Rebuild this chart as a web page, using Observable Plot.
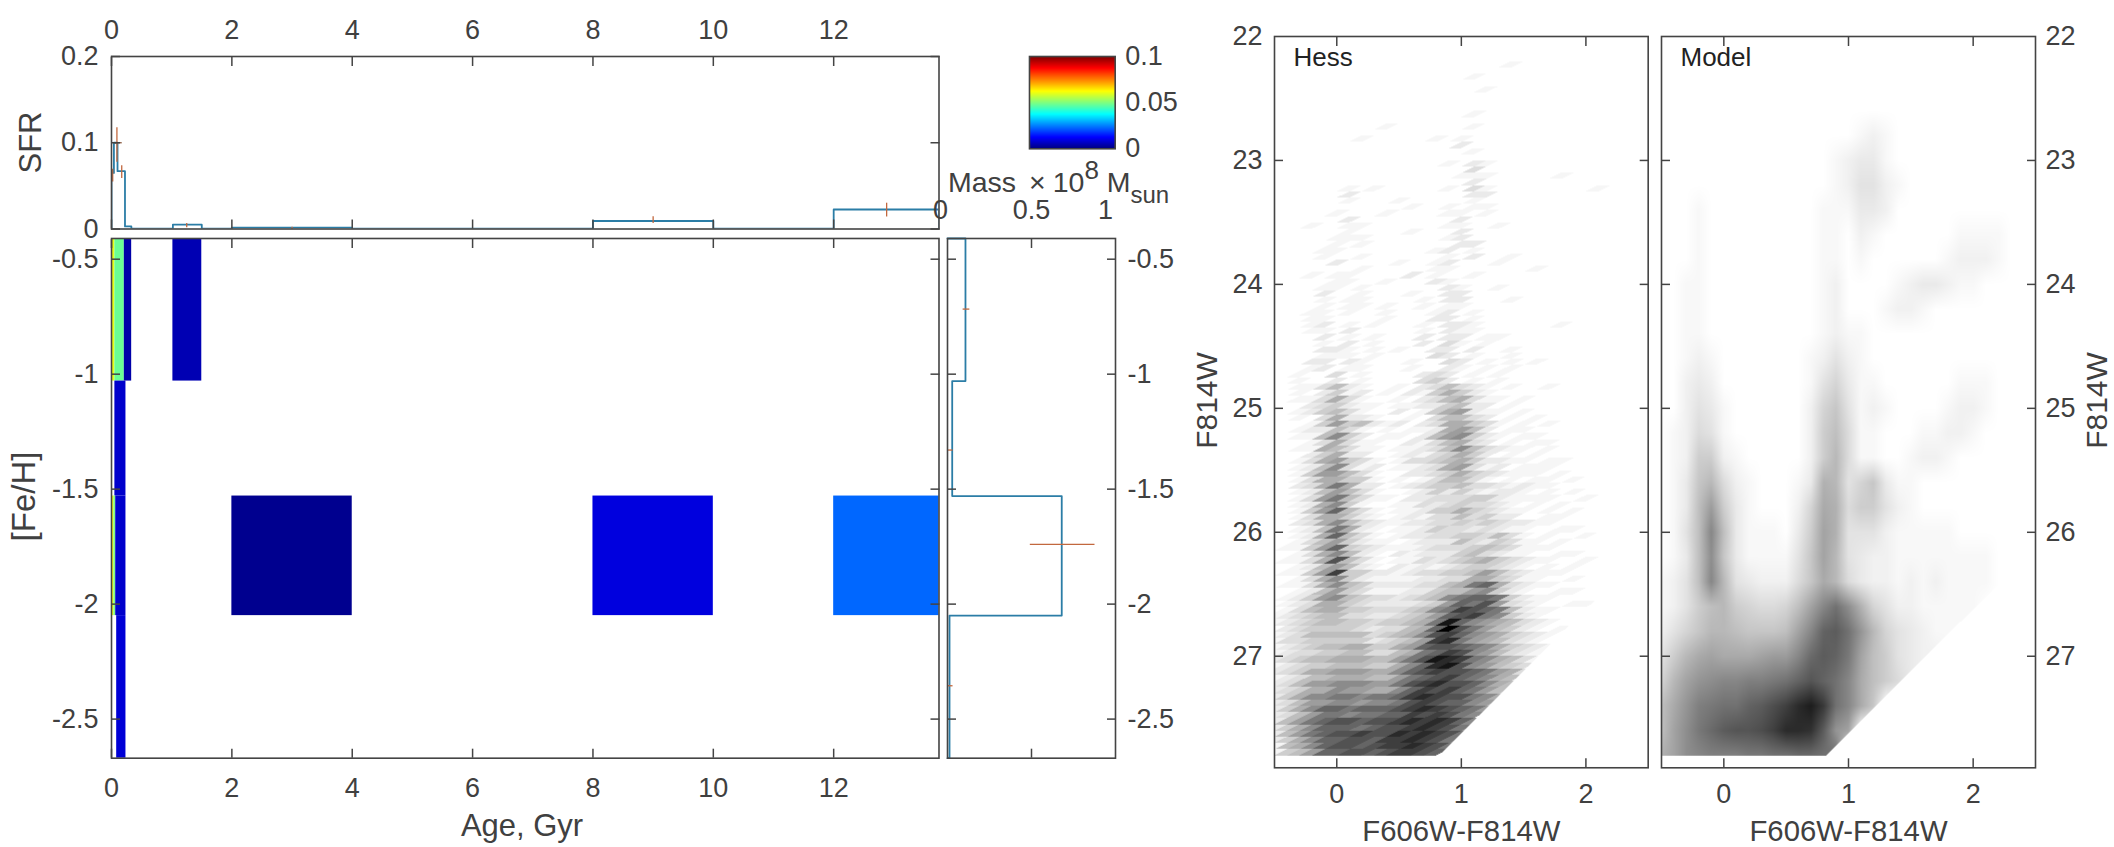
<!DOCTYPE html>
<html>
<head>
<meta charset="utf-8">
<script src="https://cdn.jsdelivr.net/npm/d3@7"></script>
<script src="https://cdn.jsdelivr.net/npm/@observablehq/plot@0.6"></script>
<style>
html,body{margin:0;padding:0;background:#fff;overflow:hidden}
#page{position:relative;width:2114px;height:847px;font-family:"Liberation Sans",Arial,sans-serif;color:#404040}
#page svg{position:absolute;background:transparent}
#mass{position:absolute;left:948px;top:165px;font-size:28.5px;line-height:34px;white-space:nowrap}
#mass .times{margin:0 7px 0 5px}
#mass sup{font-size:26px;line-height:0;vertical-align:13px}
#mass sub{font-size:24px;line-height:0;vertical-align:-11px}
</style>
</head>
<body>
<div id="page"><div id="mass">Mass <span class="times">&times;</span>10<sup>8</sup> M<sub>sun</sub></div></div>
<script>
// ---------- Data ----------
const ageTicks = [0, 2, 4, 6, 8, 10, 12];
const sfrTicks = [0, 0.1, 0.2];
const fehTicks = [-0.5, -1, -1.5, -2, -2.5];
const massTicks = [0, 0.5, 1];
const colorTicks = [0, 0.05, 0.1];
const cmdXTicks = [0, 1, 2];
const cmdYTicks = [22, 23, 24, 25, 26, 27];

// star formation history (step outline)
const sfrAge = [0, 0, 0.04, 0.1, 0.224, 0.33, 1.02, 1.5, 2, 4, 8, 10, 12, 13.75, 13.75];
const sfrVal = [0, 0.065, 0.1, 0.067, 0.003, 0.0005, 0.005, 0.0004, 0.0015, 0.0004, 0.0093, 0.0004, 0.0226, 0.0226, 0];
// vertical error bars
const errAge = [0.02, 0.09, 0.17, 1.25, 3, 9, 12.88];
const errLow = [0.055, 0.078, 0.059, 0.002, 0.0005, 0.007, 0.0145];
const errHigh = [0.07, 0.118, 0.074, 0.007, 0.0025, 0.0148, 0.0305];
// horizontal error bar at the SFR peak
const errPeakAge = [0.04, 0.17];
const errPeakSfr = 0.1;

// age-metallicity cells
const cellAge1 = [0, 0.056, 0.213, 1.02, 0.056, 0, 0.04, 0.07, 2, 8, 12, 0.086];
const cellAge2 = [0.056, 0.213, 0.335, 1.5, 0.24, 0.04, 0.07, 0.24, 4, 10, 13.75, 0.24];
const cellFeh1 = [-0.41, -0.41, -0.41, -0.41, -1.03, -1.53, -1.53, -1.53, -1.53, -1.53, -1.53, -2.05];
const cellFeh2 = [-1.03, -1.03, -1.03, -1.03, -1.53, -2.05, -2.05, -2.05, -2.05, -2.05, -2.05, -2.67];
const cellSfr = [0.06, 0.048, 0.004, 0.005, 0.0075, 0.062, 0.05, 0.0075, 0.0015, 0.0093, 0.0226, 0.0085];

// mass per metallicity bin
const fehEdges = [-0.41, -1.03, -1.53, -2.05, -2.67];
const massBins = [0.107, 0.028, 0.68, 0.012];
const massErrFeh = [-0.717, -1.33, -1.74, -2.355];
const massErrLow = [0.09, 0.003, 0.49, 0.003];
const massErrHigh = [0.13, 0.03, 0.875, 0.03];

// Hess diagram: rows every 0.05 mag from F814W 22, columns every 0.1 mag from colour -0.5 (hex density)
const faintLimit = 28.62;
const hessRows = [
"","","","",
"00000 00000 00000 00001","",
"00000 00000 00000 01000","",
"00000 00000 00000 00100","","","",
"00000 00000 00000 01000","",
"00000 00001 00000 01000","",
"00000 00100 00010 10000","00000 00000 00000 20000",
"00000 00000 00000 01000","",
"00000 00000 00001 02100","00000 00000 00000 03000",
"00000 00000 00000 11100 00010","00000 00000 00000 02000",
"00000 01010 00001 03100 00000 01000","00000 02000 00000 02200",
"00000 01000 10000 01000","00000 00000 01001 01100",
"00000 10001 00001 10100","00000 02000 00000 20000",
"00010 01100 00001 10010","00000 01000 01000 20000",
"00000 11100 00001 20000","00000 10100 00000 22000",
"00001 10000 00012 01000","00001 00100 00001 02001",
"00000 20000 10012 00010","00000 00100 00011 00000 01000",
"00010 11000 02010 01000","00000 11001 00021 00000",
"00001 10100 00002 10010","00002 00100 01002 20000",
"00001 01100 00102 20001","00001 01101 00101 10000",
"00011 01001 00012 01000","00011 00001 00022 01000",
"00012 01010 00102 21000 00010","00011 02000 00102 11000",
"00002 01010 00202 20110","00001 02010 00203 10100",
"00002 21010 10022 02001","00001 11010 00032 01001",
"00022 02100 01003 20101 01000","00012 01100 01002 10101",
"00100 30100 00232 01010","00100 20100 00342 01010",
"00113 52100 10235 32101 00100",
"00102 41201 02146 42100 00000",
"00113 63100 10235 63110 10000",
"00023 42110 11224 52201 00000",
"00124 53100 20146 72110 10000",
"00103 62210 01035 53201 01000",
"00014 74521 20236 64310 10100",
"00122 53101 01126 75201 10000",
"00115 84201 10257 84210 11000",
"00013 63110 02135 63201 01100",
"00116 53110 11235 85321 10100",
"00024 62200 12134 64201 01000",
"00136 74310 13345 64221 10110",
"00125 83120 11236 73120 11100",
"00147 75310 02234 64321 11010",
"00136 64410 10135 53101 01101",
"00236 96220 12344 53321 21100",
"00125 75310 01242 42122 10101",
"00137 95311 02233 34421 11100 10000",
"00126 84100 11323 43321 01010",
"00147 a5310 11244 64321 10101",
"00136 64210 12133 53422 00110",
"00236 85321 12233 43432 21100",
"00125 96210 11243 32321 10011",
"00126 a5310 12233 44353 10100 10000",
"00135 74211 01222 53243 11010",
"01147 a4321 11233 34543 11100",
"00136 85210 21222 45321 10011",
"01136 b5310 11323 45643 21100 10000",
"00125 75210 21212 34432 10101",
"01147 c4422 12334 45753 21110",
"00136 84211 11223 36643 11001",
"01136 85422 22335 69a63 21100",
"00125 74311 12245 57842 10011",
"01247 85433 23458 9aa94 21100",
"01236 64322 22347 a9b73 21001 10000",
"01356 64433 34589 cba95 21100",
"12345 53322 3457a bc984 21000",
"12345 54434 4569e a8765 32100",
"02344 44323 356af b9754 21010",
"12355 55534 568bc a8764 32100",
"13344 44423 457cd 97653 21000",
"12345 56644 67abb a9864 32100",
"12334 45533 569ac b8753 21000",
"23455 66655 79bed c9865 31000",
"12344 55544 68ade b8754 31000",
"23466 77766 8abcb ba976 31000",
"12355 66655 79abc a9865 20000",
"23577 88877 9bcdb ba865",
"23466 87766 8acbc a9754",
"24688 99899 acdcb b9860",
"23577 88788 9bcba a8750",
"2468a a9aaa bcdcb a9700",
"23579 9899a acbcb 98000",
"2579a bbabb cdcdc a8000",
"2468a aa9ab bcdcb 97000",
"2579a bbcbb dcdcb 90000",
"2468a abbac cdcb9 80000",
"1568a bbabc cdcb9",
"1457a abbab ccba0"
];

// Model: nodes every 0.2 mag from F814W 22, every 0.1 mag from colour -0.5 (base-36 density)
const modelRows = [
"","","","",
"00000 00000 00000 01210",
"00000 00000 00001 23310",
"00000 00000 00001 24421",
"00010 00000 00011 13320",
"00010 00000 00011 02100 00001 11100",
"00010 00000 00011 01000 00012 22100",
"00110 00000 00012 00001 23321 10000",
"00110 00000 00012 00012 21000",
"00110 00000 00012 11000",
"00121 00000 00124 21000",
"00232 00000 00146 31100 00001 11000",
"00243 10000 00268 41210 00012 21000",
"01254 10000 00279 51100 01122 10000",
"01277 21000 0027a 51100 12210",
"0138a 52100 013ba 46831 10000",
"0139e 73100 026cb 57742 10000",
"0149h 93111 037db 44421 11110",
"0139g 83111 148da 43221 11111 11000",
"1249h a4322 258ca 53221 21211 11000",
"12479 a7655 69dhk gb642 21111 10000",
"2468a a9888 9dhmn kfa64 32111 10000",
"47acd cccde ehlnm jd974 32210",
"6adfg hhiij kmomk hc975 32100",
"9cfij kkmnp ruwsk hc800",
"9dgjl noopr uutnf d0000",
"bdghi iijjk kllkk"
];

// ---------- Helpers ----------
const jet = t => {
  const c = v => Math.round(255 * Math.max(0, Math.min(1, 1.5 - Math.abs(4 * t - v))));
  return `rgb(${c(3)},${c(2)},${c(1)})`;
};
const ink = "#404040", frameInk = "#444444", lineInk = "#2b7da6", errInk = "#c2683e";
const parseRows = (rows, base) => rows.map(r => Array.from(r.replace(/ /g, ""), ch => parseInt(ch, base)));
const hessGrid = parseRows(hessRows, 16);
const modelGrid = parseRows(modelRows, 36);
const at = (g, r, c) => (g[r] && g[r][c]) || 0;

const hessFill = (x, y) => {
  if (y >= 27.8 || x + y > faintLimit) return 0;
  const r = (y - 22) / 0.05, row = Math.floor(r);
  return at(hessGrid, row, Math.floor((x + 0.5) / 0.1 + (r - row)));
};
const modelFill = (x, y) => {
  if (y >= 27.8 || x + y > faintLimit) return 0;
  const r = (y - 22) / 0.2, c = (x + 0.5) / 0.1, r0 = Math.floor(r), c0 = Math.floor(c), fr = r - r0, fc = c - c0;
  return (at(modelGrid, r0, c0) * (1 - fc) + at(modelGrid, r0, c0 + 1) * fc) * (1 - fr)
       + (at(modelGrid, r0 + 1, c0) * (1 - fc) + at(modelGrid, r0 + 1, c0 + 1) * fc) * fr;
};

const page = document.getElementById("page");
const tickFont = 27;

function panel([l, t, r, b], {x, y, color, marks}) {
  const mL = Math.min(90, l), mT = Math.min(56, t), mR = Math.min(90, 2114 - r), mB = Math.min(89, 847 - b);
  const svg = Plot.plot({
    width: r - l + mL + mR, height: b - t + mT + mB,
    marginLeft: mL, marginRight: mR, marginTop: mT, marginBottom: mB,
    x: {domain: x, axis: null, label: null},
    y: {domain: y, axis: null, label: null},
    color: color || undefined,
    style: {background: "transparent", overflow: "visible", fontFamily: '"Liberation Sans", Arial, sans-serif', color: ink},
    marks: marks.concat(Plot.frame({stroke: frameInk, strokeWidth: 1.6}))
  });
  svg.style.left = (l - mL) + "px";
  svg.style.top = (t - mT) + "px";
  page.appendChild(svg);
}
const noText = () => "";
const xTicks = (ticks, anchor, pad) => Plot.axisX(ticks, {
  anchor, tickSize: -9, tickPadding: pad == null ? 0 : pad + 9, fontSize: tickFont, stroke: frameInk,
  strokeWidth: 1.5, fill: ink, label: null, tickFormat: pad == null ? noText : String
});
const yTicks = (ticks, anchor, pad) => Plot.axisY(ticks, {
  anchor, tickSize: -9, tickPadding: pad == null ? 0 : pad + 9, fontSize: tickFont, stroke: frameInk,
  strokeWidth: 1.5, fill: ink, label: null, tickFormat: pad == null ? noText : String
});
// text placed in the frame: dx, dy measured from the frame's top-left corner
const note = (s, dx, dy, size, extra = {}) => Plot.text([s], {
  text: d => d, frameAnchor: "top-left", dx, dy, fontSize: size, fill: ink, lineAnchor: "middle", ...extra
});

// ---------- SFR panel ----------
panel([110.5, 56, 938, 228.5], {
  x: [0, 13.75], y: [0, 0.2],
  marks: [
    Plot.line(sfrAge.map((a, i) => ({a, v: sfrVal[i]})), {x: "a", y: "v", curve: "step-after", stroke: lineInk, strokeWidth: 1.8, clip: true}),
    Plot.link(errAge, {x: d => d, y1: (d, i) => errLow[i], y2: (d, i) => errHigh[i], stroke: errInk, strokeWidth: 1.3}),
    Plot.link([errPeakSfr], {x1: errPeakAge[0], x2: errPeakAge[1], y: d => d, stroke: "#8a5a40", strokeWidth: 1.3}),
    xTicks(ageTicks, "top", 18),
    xTicks(ageTicks, "bottom"),
    yTicks(sfrTicks, "left", 13),
    yTicks(sfrTicks, "right"),
    note("SFR", 30 - 110.5, 86, 31, {rotate: -90, textAnchor: "middle"})
  ]
});

// ---------- Age-metallicity panel ----------
const cells = cellSfr.map((v, i) => ({v, a1: cellAge1[i], a2: cellAge2[i], f1: cellFeh1[i], f2: cellFeh2[i]}));
panel([110.5, 238, 938, 757.7], {
  x: [0, 13.75], y: [-2.67, -0.41],
  color: {type: "linear", domain: [0, 0.1], interpolate: jet},
  marks: [
    Plot.rect(cells, {x1: "a1", x2: "a2", y1: "f1", y2: "f2", fill: "v"}),
    xTicks(ageTicks, "top"),
    xTicks(ageTicks, "bottom", 20),
    yTicks(fehTicks, "left", 13),
    yTicks(fehTicks, "right"),
    note("Age, Gyr", 521 - 110.5, 826 - 238, 31, {textAnchor: "middle"}),
    note("[Fe/H]", 23 - 110.5, 258, 33, {rotate: -90, textAnchor: "middle"})
  ]
});

// ---------- Mass panel ----------
const massOutline = [{m: 0, f: fehEdges[0]}].concat(
  massBins.flatMap((m, i) => [{m, f: fehEdges[i]}, {m, f: fehEdges[i + 1]}]),
  [{m: 0, f: fehEdges[4]}]
);
panel([947, 238, 1115, 757.7], {
  x: [0, 1], y: [-2.67, -0.41],
  marks: [
    Plot.line(massOutline, {x: "m", y: "f", stroke: lineInk, strokeWidth: 1.8}),
    Plot.link(massErrFeh, {y: d => d, x1: (d, i) => massErrLow[i], x2: (d, i) => massErrHigh[i], stroke: errInk, strokeWidth: 1.3}),
    xTicks([0.5], "top"),
    xTicks([0.5], "bottom"),
    yTicks(fehTicks, "left"),
    yTicks(fehTicks, "right", 12),
    ...massTicks.map((v, i) => Plot.text([v], {
      x: d => d, text: String, frameAnchor: "top", dx: [-7, 0, -10][i], dy: -28, fontSize: tickFont, fill: ink, lineAnchor: "middle"
    }))
  ]
});

// ---------- Colour bar ----------
panel([1029.3, 56, 1115, 148.3], {
  x: [0, 1], y: [0, 0.1],
  color: {type: "linear", domain: [0, 0.1], interpolate: jet},
  marks: [
    Plot.raster({x1: 0, x2: 1, y1: 0, y2: 0.1, fill: (x, y) => y, pixelSize: 1}),
    Plot.axisY(colorTicks, {anchor: "right", tickSize: 0, tickPadding: 10, fontSize: tickFont, fill: ink, label: null, tickFormat: String})
  ]
});

// ---------- Hess and Model panels ----------
const cmdPanel = (frame, name, fill, color, leftSide, rightSide) => panel(frame, {
  x: [-0.5, 2.5], y: [27.9, 22],
  color,
  marks: [
    Plot.raster({x1: -0.5, x2: 2.5, y1: 27.9, y2: 22, fill, pixelSize: 1}),
    xTicks(cmdXTicks, "top"),
    xTicks(cmdXTicks, "bottom", 16),
    yTicks(cmdYTicks.slice(1), "left", leftSide ? 12 : null),
    yTicks(cmdYTicks.slice(1), "right", rightSide ? 10 : null),
    ...(leftSide ? [Plot.text([22], {y: d => d, text: String, frameAnchor: "left", dx: -12, textAnchor: "end", fontSize: tickFont, fill: ink, lineAnchor: "middle"}),
      note("F814W", 1207 - frame[0], 400 - frame[1], 30, {rotate: -90, textAnchor: "middle"})] : []),
    ...(rightSide ? [Plot.text([22], {y: d => d, text: String, frameAnchor: "right", dx: 10, textAnchor: "start", fontSize: tickFont, fill: ink, lineAnchor: "middle"}),
      note("F814W", 2096.5 - frame[0], 400 - frame[1], 30, {rotate: -90, textAnchor: "middle"})] : []),
    note(name, 19, 21, 26, {textAnchor: "start", fill: "#222222"}),
    note("F606W-F814W", (frame[2] - frame[0]) / 2, 831 - frame[1], 29.3, {textAnchor: "middle"})
  ]
});
cmdPanel([1274, 36, 1647.7, 767.3], "Hess", hessFill, {type: "pow", exponent: 1.25, domain: [0, 15], range: ["#ffffff", "#000000"]}, true, false);
cmdPanel([1661, 36, 2035, 767.3], "Model", modelFill, {type: "linear", domain: [0, 36], range: ["#ffffff", "#000000"]}, false, true);
</script>
</body>
</html>
